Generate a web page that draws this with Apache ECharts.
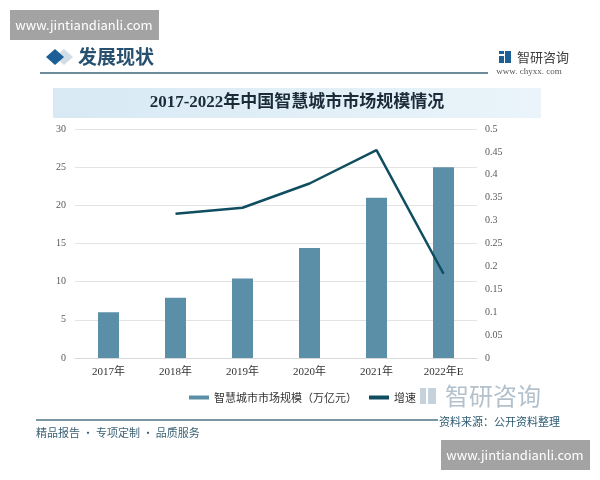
<!DOCTYPE html>
<html>
<head>
<meta charset="utf-8">
<script src="https://cdn.jsdelivr.net/npm/echarts@6/dist/echarts.min.js"></script>
<style>
  html, body { margin: 0; padding: 0; background: #fff; }
  #main { width: 600px; height: 480px; }
</style>
</head>
<body>
<div id="main"></div>
<script>
// 数据
var years = ['2017年', '2018年', '2019年', '2020年', '2021年', '2022年E'];
var marketSize = [6.0, 7.9, 10.4, 14.4, 21.0, 25.0];   // 万亿元
var growthRate = ['-', 0.315, 0.328, 0.381, 0.454, 0.184];
var leftTicks = { min: 0, max: 30, interval: 5 };
var rightTicks = { min: 0, max: 0.5, interval: 0.05 };

var chart = echarts.init(document.getElementById('main'));

var sans = '"Noto Sans CJK SC", "Noto Sans", sans-serif';
var serif = '"Liberation Serif", "DejaVu Serif", "Noto Sans CJK SC", serif';

chart.setOption({
  backgroundColor: '#fff',
  animation: false,
  grid: { left: 75, right: 123, top: 129, bottom: 122 },
  legend: {
    top: 387,
    left: 184,
    itemWidth: 20,
    itemHeight: 4,
    itemGap: 12,
    textStyle: { fontSize: 11, color: '#333', fontFamily: sans },
    data: [
      { name: '智慧城市市场规模（万亿元）', icon: 'rect' },
      { name: '增速', icon: 'rect' }
    ]
  },
  xAxis: {
    type: 'category',
    data: years,
    axisLine: { lineStyle: { color: '#d9d9d9' } },
    axisTick: { show: false },
    axisLabel: { color: '#333', fontSize: 11, fontFamily: serif, margin: 9 }
  },
  yAxis: [
    {
      type: 'value',
      min: leftTicks.min, max: leftTicks.max, interval: leftTicks.interval,
      axisLine: { show: false },
      axisTick: { show: false },
      axisLabel: { color: '#595959', fontSize: 10, fontFamily: serif, margin: 9 },
      splitLine: { lineStyle: { color: '#e3e3e3' } }
    },
    {
      type: 'value',
      min: rightTicks.min, max: rightTicks.max, interval: rightTicks.interval,
      axisLine: { show: false },
      axisTick: { show: false },
      axisLabel: {
        color: '#595959', fontSize: 10, fontFamily: serif, margin: 8,
        formatter: function (v) { return v === 0 ? '0' : String(+v.toFixed(2)); }
      },
      splitLine: { show: false }
    }
  ],
  series: [
    {
      name: '智慧城市市场规模（万亿元）',
      type: 'bar',
      data: marketSize,
      barWidth: 21,
      itemStyle: { color: '#5b8fa7' }
    },
    {
      name: '增速',
      type: 'line',
      yAxisIndex: 1,
      data: growthRate,
      symbol: 'none',
      lineStyle: { color: '#0f4d60', width: 2.5 },
      itemStyle: { color: '#0f4d60' }
    }
  ],
  graphic: [
    // 顶部水印
    { type: 'rect', shape: { x: 10, y: 10, width: 149, height: 30 }, style: { fill: '#a3a3a3' }, z: 100 },
    { type: 'text', x: 84, y: 25, z: 101, style: { text: 'www.jintiandianli.com', fill: '#fff', font: '13px ' + sans, textAlign: 'center', textVerticalAlign: 'middle' } },
    // 标题栏 发展现状
    { type: 'polygon', shape: { points: [[64, 49], [73, 57], [64, 65], [55, 57]] }, style: { fill: '#d3dde6' } },
    { type: 'polygon', shape: { points: [[55, 49], [64, 57], [55, 65], [46, 57]] }, style: { fill: '#1c5f96' } },
    { type: 'text', x: 78, y: 57, style: { text: '发展现状', fill: '#26506e', font: 'bold 19px ' + sans, textVerticalAlign: 'middle' } },
    { type: 'line', shape: { x1: 40, y1: 73, x2: 488, y2: 73 }, style: { stroke: '#3f6678', lineWidth: 1.5 } },
    // 右上角标志
    { type: 'rect', shape: { x: 499, y: 51, width: 5, height: 3 }, style: { fill: '#1c5f96' } },
    { type: 'rect', shape: { x: 499, y: 56, width: 5, height: 7 }, style: { fill: '#1c5f96' } },
    { type: 'rect', shape: { x: 505, y: 51, width: 6, height: 12 }, style: { fill: '#1c5f96' } },
    { type: 'text', x: 517, y: 57, style: { text: '智研咨询', fill: '#3c3c3c', font: '13px ' + sans, textVerticalAlign: 'middle' } },
    { type: 'text', x: 529, y: 72, style: { text: 'www. chyxx. com', fill: '#555', font: '9px ' + serif, textAlign: 'center', textVerticalAlign: 'middle' } },
    // 图表标题
    {
      type: 'rect', shape: { x: 53, y: 88, width: 488, height: 30 },
      style: {
        fill: new echarts.graphic.LinearGradient(0, 0, 1, 0, [
          { offset: 0, color: '#d8e9f4' },
          { offset: 1, color: '#eaf4fa' }
        ])
      }
    },
    { type: 'text', x: 297, y: 103, style: { text: '2017-2022年中国智慧城市市场规模情况', fill: '#1b2b38', font: 'bold 17px ' + serif, textAlign: 'center', textVerticalAlign: 'middle' } },
    // 底部
    { type: 'rect', shape: { x: 420, y: 388, width: 6, height: 16 }, style: { fill: '#c5d2db' } },
    { type: 'rect', shape: { x: 428, y: 388, width: 8, height: 16 }, style: { fill: '#c5d2db' } },
    { type: 'text', x: 445, y: 396, style: { text: '智研咨询', fill: '#b3c1cc', font: '24px ' + sans, textVerticalAlign: 'middle' } },
    { type: 'line', shape: { x1: 36, y1: 420, x2: 438, y2: 420 }, style: { stroke: '#4f7585', lineWidth: 1.5 } },
    { type: 'text', x: 439, y: 422, style: { text: '资料来源：公开资料整理', fill: '#2d5a72', font: '11px ' + sans, textVerticalAlign: 'middle' } },
    { type: 'text', x: 36, y: 433, style: { text: '精品报告 · 专项定制 · 品质服务', fill: '#3b6074', font: '11px ' + sans, textVerticalAlign: 'middle' } },
    // 底部水印
    { type: 'rect', shape: { x: 441, y: 440, width: 149, height: 30 }, style: { fill: '#a3a3a3' }, z: 100 },
    { type: 'text', x: 515, y: 455, z: 101, style: { text: 'www.jintiandianli.com', fill: '#fff', font: '13px ' + sans, textAlign: 'center', textVerticalAlign: 'middle' } }
  ]
});
</script>
</body>
</html>
